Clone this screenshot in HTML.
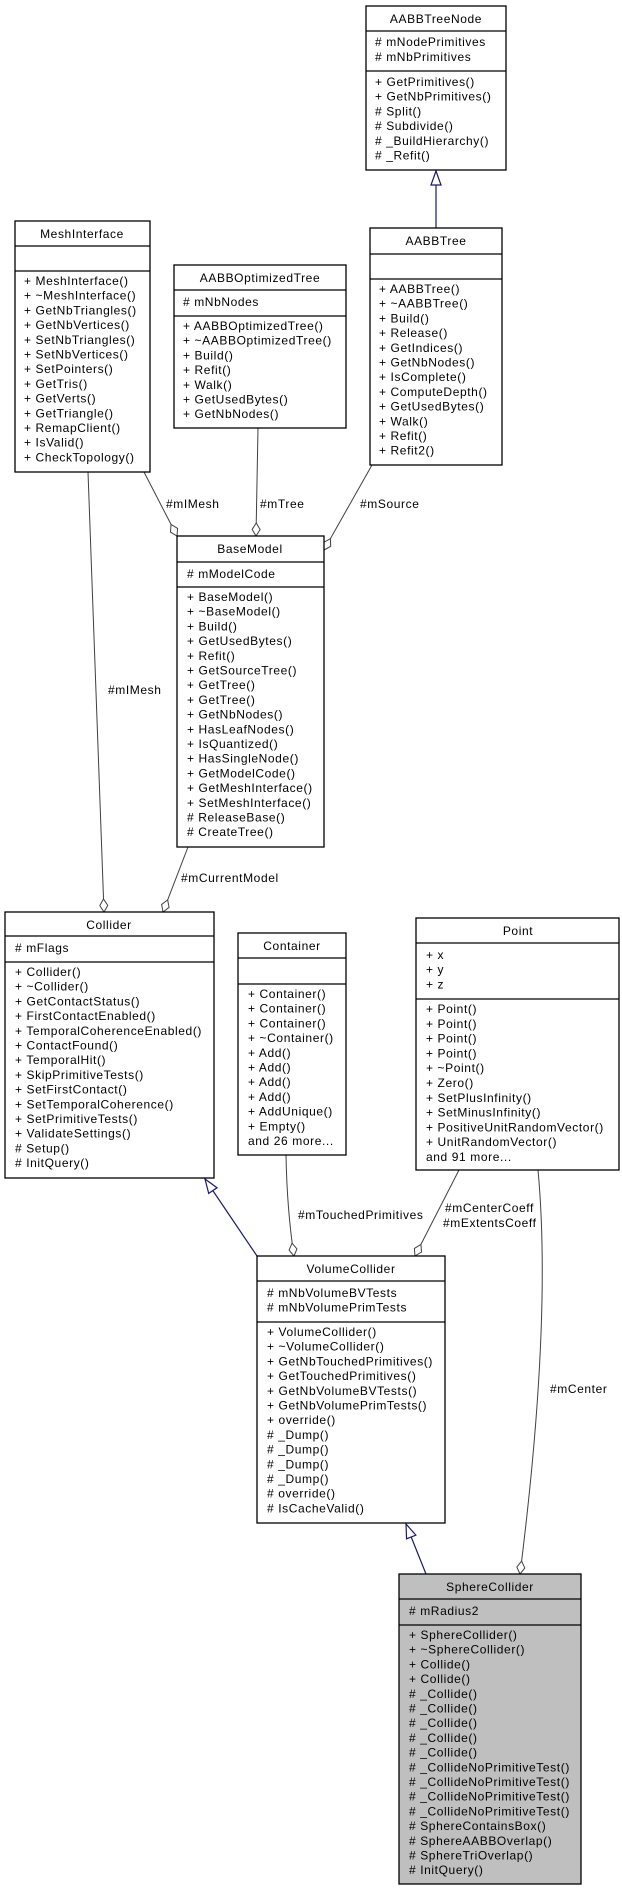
<!DOCTYPE html>
<html><head><meta charset="utf-8"><style>
html,body{margin:0;padding:0;background:#fff;}
svg{display:block;}
text{font-family:"Liberation Sans",Helvetica,sans-serif;font-size:12px;letter-spacing:0.6px;fill:#000;}
.b{fill:#fff;stroke:#000;stroke-width:1.3;}
.s{stroke:#000;stroke-width:1.3;}
.e{fill:none;stroke:#404040;stroke-width:1;}
.i{fill:none;stroke:#191970;stroke-width:1.2;}
</style></head><body>
<svg width="622" height="1891" viewBox="0 0 622 1891" xmlns="http://www.w3.org/2000/svg">
<defs>
<marker id="dia" markerUnits="userSpaceOnUse" markerWidth="16" markerHeight="10" refX="14" refY="5" orient="auto" viewBox="0 0 16 10">
<path d="M14,5 L7.5,1 L1,5 L7.5,9 Z" fill="#fff" stroke="#404040" stroke-width="1"/></marker>
<marker id="tri" markerUnits="userSpaceOnUse" markerWidth="16" markerHeight="12" refX="15" refY="6" orient="auto" viewBox="0 0 16 12">
<path d="M15,6 L1,1 L1,11 Z" fill="#fff" stroke="#191970" stroke-width="1.2"/></marker>
</defs>

<!-- edges -->
<path class="i" d="M436,228 L436,171" marker-end="url(#tri)"/>
<path class="e" d="M144,472 L177,536" marker-end="url(#dia)"/>
<path class="e" d="M258,428 L256,536" marker-end="url(#dia)"/>
<path class="e" d="M372,465 L324,550" marker-end="url(#dia)"/>
<path class="e" d="M88,472 L104,912" marker-end="url(#dia)"/>
<path class="e" d="M188,847 L163,912" marker-end="url(#dia)"/>
<path class="i" d="M257,1256 L205,1179" marker-end="url(#tri)"/>
<path class="e" d="M286,1155 Q287,1210 294,1256" marker-end="url(#dia)"/>
<path class="e" d="M459,1170 L415,1256" marker-end="url(#dia)"/>
<path class="e" d="M538,1170 Q552,1320 520,1574" marker-end="url(#dia)"/>
<path class="i" d="M426,1574 L406,1524" marker-end="url(#tri)"/>

<text x="166" y="508">#mIMesh</text>
<text x="260" y="508">#mTree</text>
<text x="360" y="508">#mSource</text>
<text x="108" y="694">#mIMesh</text>
<text x="181" y="882">#mCurrentModel</text>
<text x="298" y="1219">#mTouchedPrimitives</text>
<text x="445" y="1212">#mCenterCoeff</text>
<text x="443" y="1227">#mExtentsCoeff</text>
<text x="550" y="1393">#mCenter</text>

<!-- AABBTreeNode -->
<rect class="b" x="366" y="6" width="140" height="164"/>
<line class="s" x1="366" y1="31" x2="506" y2="31"/><line class="s" x1="366" y1="71" x2="506" y2="71"/>
<text x="436" y="23" text-anchor="middle">AABBTreeNode</text>
<text x="375" y="46"><tspan x="375">#&#160;mNodePrimitives</tspan><tspan x="375" dy="15">#&#160;mNbPrimitives</tspan></text>
<text x="375" y="86"><tspan x="375">+ GetPrimitives()</tspan><tspan x="375" dy="14.7">+ GetNbPrimitives()</tspan><tspan x="375" dy="14.7"># Split()</tspan><tspan x="375" dy="14.7"># Subdivide()</tspan><tspan x="375" dy="14.7"># _BuildHierarchy()</tspan><tspan x="375" dy="14.7"># _Refit()</tspan></text>

<!-- MeshInterface -->
<rect class="b" x="15" y="221" width="135" height="251"/>
<line class="s" x1="15" y1="246" x2="150" y2="246"/><line class="s" x1="15" y1="271" x2="150" y2="271"/>
<text x="82" y="238" text-anchor="middle">MeshInterface</text>
<text x="24" y="285"><tspan x="24">+ MeshInterface()</tspan><tspan x="24" dy="14.7">+ ~MeshInterface()</tspan><tspan x="24" dy="14.7">+ GetNbTriangles()</tspan><tspan x="24" dy="14.7">+ GetNbVertices()</tspan><tspan x="24" dy="14.7">+ SetNbTriangles()</tspan><tspan x="24" dy="14.7">+ SetNbVertices()</tspan><tspan x="24" dy="14.7">+ SetPointers()</tspan><tspan x="24" dy="14.7">+ GetTris()</tspan><tspan x="24" dy="14.7">+ GetVerts()</tspan><tspan x="24" dy="14.7">+ GetTriangle()</tspan><tspan x="24" dy="14.7">+ RemapClient()</tspan><tspan x="24" dy="14.7">+ IsValid()</tspan><tspan x="24" dy="14.7">+ CheckTopology()</tspan></text>

<!-- AABBOptimizedTree -->
<rect class="b" x="174" y="265" width="172" height="163"/>
<line class="s" x1="174" y1="290" x2="346" y2="290"/><line class="s" x1="174" y1="316" x2="346" y2="316"/>
<text x="260" y="282" text-anchor="middle">AABBOptimizedTree</text>
<text x="183" y="306">#&#160;mNbNodes</text>
<text x="183" y="330"><tspan x="183">+ AABBOptimizedTree()</tspan><tspan x="183" dy="14.7">+ ~AABBOptimizedTree()</tspan><tspan x="183" dy="14.7">+ Build()</tspan><tspan x="183" dy="14.7">+ Refit()</tspan><tspan x="183" dy="14.7">+ Walk()</tspan><tspan x="183" dy="14.7">+ GetUsedBytes()</tspan><tspan x="183" dy="14.7">+ GetNbNodes()</tspan></text>

<!-- AABBTree -->
<rect class="b" x="370" y="228" width="132" height="237"/>
<line class="s" x1="370" y1="254" x2="502" y2="254"/><line class="s" x1="370" y1="279" x2="502" y2="279"/>
<text x="436" y="245" text-anchor="middle">AABBTree</text>
<text x="379" y="293"><tspan x="379">+ AABBTree()</tspan><tspan x="379" dy="14.7">+ ~AABBTree()</tspan><tspan x="379" dy="14.7">+ Build()</tspan><tspan x="379" dy="14.7">+ Release()</tspan><tspan x="379" dy="14.7">+ GetIndices()</tspan><tspan x="379" dy="14.7">+ GetNbNodes()</tspan><tspan x="379" dy="14.7">+ IsComplete()</tspan><tspan x="379" dy="14.7">+ ComputeDepth()</tspan><tspan x="379" dy="14.7">+ GetUsedBytes()</tspan><tspan x="379" dy="14.7">+ Walk()</tspan><tspan x="379" dy="14.7">+ Refit()</tspan><tspan x="379" dy="14.7">+ Refit2()</tspan></text>

<!-- BaseModel -->
<rect class="b" x="177" y="536" width="147" height="311"/>
<line class="s" x1="177" y1="562" x2="324" y2="562"/><line class="s" x1="177" y1="587" x2="324" y2="587"/>
<text x="250" y="553" text-anchor="middle">BaseModel</text>
<text x="187" y="578">#&#160;mModelCode</text>
<text x="187" y="601"><tspan x="187">+ BaseModel()</tspan><tspan x="187" dy="14.7">+ ~BaseModel()</tspan><tspan x="187" dy="14.7">+ Build()</tspan><tspan x="187" dy="14.7">+ GetUsedBytes()</tspan><tspan x="187" dy="14.7">+ Refit()</tspan><tspan x="187" dy="14.7">+ GetSourceTree()</tspan><tspan x="187" dy="14.7">+ GetTree()</tspan><tspan x="187" dy="14.7">+ GetTree()</tspan><tspan x="187" dy="14.7">+ GetNbNodes()</tspan><tspan x="187" dy="14.7">+ HasLeafNodes()</tspan><tspan x="187" dy="14.7">+ IsQuantized()</tspan><tspan x="187" dy="14.7">+ HasSingleNode()</tspan><tspan x="187" dy="14.7">+ GetModelCode()</tspan><tspan x="187" dy="14.7">+ GetMeshInterface()</tspan><tspan x="187" dy="14.7">+ SetMeshInterface()</tspan><tspan x="187" dy="14.7"># ReleaseBase()</tspan><tspan x="187" dy="14.7"># CreateTree()</tspan></text>

<!-- Collider -->
<rect class="b" x="5" y="912" width="209" height="266"/>
<line class="s" x1="5" y1="936" x2="214" y2="936"/><line class="s" x1="5" y1="962" x2="214" y2="962"/>
<text x="109" y="929" text-anchor="middle">Collider</text>
<text x="15" y="952">#&#160;mFlags</text>
<text x="15" y="976"><tspan x="15">+ Collider()</tspan><tspan x="15" dy="14.7">+ ~Collider()</tspan><tspan x="15" dy="14.7">+ GetContactStatus()</tspan><tspan x="15" dy="14.7">+ FirstContactEnabled()</tspan><tspan x="15" dy="14.7">+ TemporalCoherenceEnabled()</tspan><tspan x="15" dy="14.7">+ ContactFound()</tspan><tspan x="15" dy="14.7">+ TemporalHit()</tspan><tspan x="15" dy="14.7">+ SkipPrimitiveTests()</tspan><tspan x="15" dy="14.7">+ SetFirstContact()</tspan><tspan x="15" dy="14.7">+ SetTemporalCoherence()</tspan><tspan x="15" dy="14.7">+ SetPrimitiveTests()</tspan><tspan x="15" dy="14.7">+ ValidateSettings()</tspan><tspan x="15" dy="14.7"># Setup()</tspan><tspan x="15" dy="14.7"># InitQuery()</tspan></text>

<!-- Container -->
<rect class="b" x="238" y="933" width="108" height="222"/>
<line class="s" x1="238" y1="958" x2="346" y2="958"/><line class="s" x1="238" y1="984" x2="346" y2="984"/>
<text x="292" y="950" text-anchor="middle">Container</text>
<text x="248" y="998"><tspan x="248">+ Container()</tspan><tspan x="248" dy="14.7">+ Container()</tspan><tspan x="248" dy="14.7">+ Container()</tspan><tspan x="248" dy="14.7">+ ~Container()</tspan><tspan x="248" dy="14.7">+ Add()</tspan><tspan x="248" dy="14.7">+ Add()</tspan><tspan x="248" dy="14.7">+ Add()</tspan><tspan x="248" dy="14.7">+ Add()</tspan><tspan x="248" dy="14.7">+ AddUnique()</tspan><tspan x="248" dy="14.7">+ Empty()</tspan><tspan x="248" dy="14.7">and 26 more...</tspan></text>

<!-- Point -->
<rect class="b" x="416" y="918" width="203" height="252"/>
<line class="s" x1="416" y1="943" x2="619" y2="943"/><line class="s" x1="416" y1="999" x2="619" y2="999"/>
<text x="518" y="935" text-anchor="middle">Point</text>
<text x="426" y="959"><tspan x="426">+ x</tspan><tspan x="426" dy="14.7">+ y</tspan><tspan x="426" dy="14.7">+ z</tspan></text>
<text x="426" y="1013"><tspan x="426">+ Point()</tspan><tspan x="426" dy="14.8">+ Point()</tspan><tspan x="426" dy="14.8">+ Point()</tspan><tspan x="426" dy="14.8">+ Point()</tspan><tspan x="426" dy="14.8">+ ~Point()</tspan><tspan x="426" dy="14.8">+ Zero()</tspan><tspan x="426" dy="14.8">+ SetPlusInfinity()</tspan><tspan x="426" dy="14.8">+ SetMinusInfinity()</tspan><tspan x="426" dy="14.8">+ PositiveUnitRandomVector()</tspan><tspan x="426" dy="14.8">+ UnitRandomVector()</tspan><tspan x="426" dy="14.8">and 91 more...</tspan></text>

<!-- VolumeCollider -->
<rect class="b" x="257" y="1256" width="188" height="267"/>
<line class="s" x1="257" y1="1281" x2="445" y2="1281"/><line class="s" x1="257" y1="1322" x2="445" y2="1322"/>
<text x="351" y="1273" text-anchor="middle">VolumeCollider</text>
<text x="267" y="1297"><tspan x="267">#&#160;mNbVolumeBVTests</tspan><tspan x="267" dy="14.7">#&#160;mNbVolumePrimTests</tspan></text>
<text x="267" y="1336"><tspan x="267">+ VolumeCollider()</tspan><tspan x="267" dy="14.7">+ ~VolumeCollider()</tspan><tspan x="267" dy="14.7">+ GetNbTouchedPrimitives()</tspan><tspan x="267" dy="14.7">+ GetTouchedPrimitives()</tspan><tspan x="267" dy="14.7">+ GetNbVolumeBVTests()</tspan><tspan x="267" dy="14.7">+ GetNbVolumePrimTests()</tspan><tspan x="267" dy="14.7">+ override()</tspan><tspan x="267" dy="14.7"># _Dump()</tspan><tspan x="267" dy="14.7"># _Dump()</tspan><tspan x="267" dy="14.7"># _Dump()</tspan><tspan x="267" dy="14.7"># _Dump()</tspan><tspan x="267" dy="14.7"># override()</tspan><tspan x="267" dy="14.7"># IsCacheValid()</tspan></text>

<!-- SphereCollider -->
<rect class="b" x="399" y="1574" width="182" height="310" style="fill:#bfbfbf"/>
<line class="s" x1="399" y1="1599" x2="581" y2="1599"/><line class="s" x1="399" y1="1625" x2="581" y2="1625"/>
<text x="490" y="1591" text-anchor="middle">SphereCollider</text>
<text x="409" y="1615">#&#160;mRadius2</text>
<text x="409" y="1639"><tspan x="409">+ SphereCollider()</tspan><tspan x="409" dy="14.7">+ ~SphereCollider()</tspan><tspan x="409" dy="14.7">+ Collide()</tspan><tspan x="409" dy="14.7">+ Collide()</tspan><tspan x="409" dy="14.7"># _Collide()</tspan><tspan x="409" dy="14.7"># _Collide()</tspan><tspan x="409" dy="14.7"># _Collide()</tspan><tspan x="409" dy="14.7"># _Collide()</tspan><tspan x="409" dy="14.7"># _Collide()</tspan><tspan x="409" dy="14.7"># _CollideNoPrimitiveTest()</tspan><tspan x="409" dy="14.7"># _CollideNoPrimitiveTest()</tspan><tspan x="409" dy="14.7"># _CollideNoPrimitiveTest()</tspan><tspan x="409" dy="14.7"># _CollideNoPrimitiveTest()</tspan><tspan x="409" dy="14.7"># SphereContainsBox()</tspan><tspan x="409" dy="14.7"># SphereAABBOverlap()</tspan><tspan x="409" dy="14.7"># SphereTriOverlap()</tspan><tspan x="409" dy="14.7"># InitQuery()</tspan></text>
</svg>
</body></html>
